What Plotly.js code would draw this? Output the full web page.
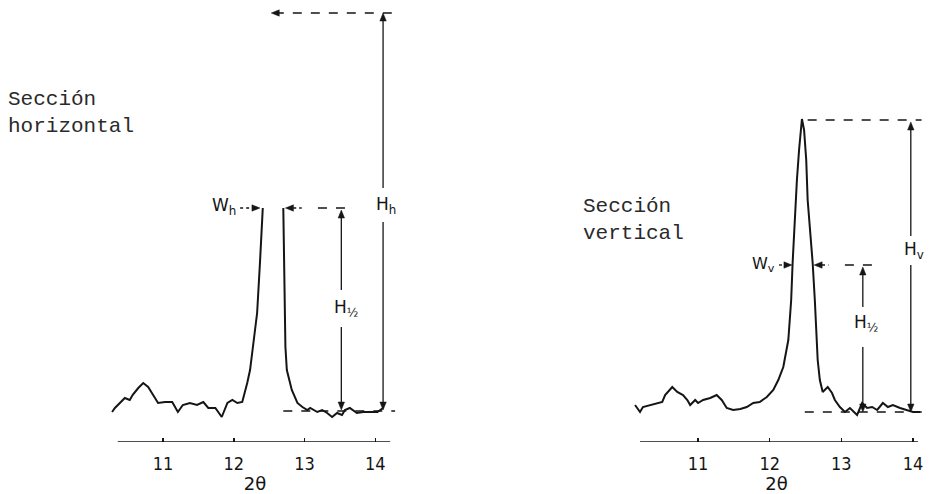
<!DOCTYPE html>
<html>
<head>
<meta charset="utf-8">
<script src="https://cdn.plot.ly/plotly-3.0.1.min.js"></script>
<style>html,body{margin:0;padding:0;background:#fff;}#chart{width:930px;height:494px;}</style>
</head>
<body>
<div id="chart"></div>
<script>
// Sección horizontal (2θ, intensity)
const leftTheta = [10.28,10.32,10.39,10.46,10.53,10.57,10.65,10.72,10.79,10.86,10.93,11.03,11.13,11.21,11.28,11.38,11.48,11.57,11.64,11.74,11.83,11.91,11.98,12.05,12.12,12.19,12.23,12.26,12.33,12.37,12.41,
  null,
  12.70,12.71,12.73,12.75,12.82,12.90,12.97,13.04,13.08,13.18,13.25,13.32,13.39,13.46,13.53,13.57,13.64,13.74,13.83,13.93,14.03,14.11];
const leftIntensity = [30,34,39,44,42,47,54,59,55,47,39,40,40,30,37,39,37,40,34,34,25,39,42,39,40,59,72,89,129,179,234,
  null,
  234,162,95,72,52,39,35,32,34,30,32,29,25,29,27,32,34,29,30,30,30,34];

// Sección vertical (2θ, intensity)
const rightTheta = [10.12,10.19,10.23,10.33,10.43,10.50,10.54,10.64,10.71,10.79,10.85,10.89,10.96,11.00,11.07,11.17,11.26,11.33,11.40,11.49,11.59,11.68,11.77,11.86,11.96,12.05,12.12,12.19,12.26,12.30,12.32,12.35,12.38,12.41,12.44,12.45,
  12.48,12.51,12.53,12.58,12.60,12.63,12.66,12.67,12.70,12.74,12.81,12.87,12.91,12.98,13.05,13.12,13.22,13.29,13.36,13.43,13.50,13.58,13.65,13.72,13.82,13.91,14.00,14.10];
const rightIntensity = [37,30,35,37,39,40,47,55,50,47,42,37,42,39,42,44,47,42,34,32,33,35,39,40,45,52,62,75,102,142,179,222,262,292,317,323,
  312,282,242,202,179,142,102,82,62,50,55,49,42,35,30,34,27,39,34,35,32,39,35,37,34,32,30,30];

const tickVals = [11,12,13,14];
const tickText = ['11','12','13','14'];
const axisTitle = '2θ';
const labelLeft = 'Sección<br>horizontal';
const labelRight = 'Sección<br>vertical';

const ink = '#151515';
const lineStyle = {color: ink, width: 2};

const traces = [
  {x: leftTheta, y: leftIntensity, xaxis: 'x', yaxis: 'y', type: 'scatter', mode: 'lines', line: lineStyle, connectgaps: false, hoverinfo: 'skip'},
  {x: rightTheta, y: rightIntensity, xaxis: 'x2', yaxis: 'y2', type: 'scatter', mode: 'lines', line: lineStyle, hoverinfo: 'skip'}
];

function xax(domain, range) {
  return {
    domain: domain, range: range, showline: false, showgrid: false, zeroline: false,
    tickmode: 'array', tickvals: tickVals, ticktext: tickText,
    ticks: 'inside', ticklen: 4, tickwidth: 1.5, tickcolor: ink,
    ticklabelstandoff: 9,
    tickfont: {family: 'DejaVu Sans Condensed, Liberation Sans, sans-serif', size: 18, color: ink},
    title: {text: axisTitle, standoff: 11, font: {family: 'DejaVu Sans, sans-serif', size: 18, color: ink}},
    fixedrange: true
  };
}
function yax(anchor) {
  return {range: [0, 442], visible: false, showgrid: false, zeroline: false, showticklabels: false, anchor: anchor, fixedrange: true};
}

// pixels per x unit for each panel (y: 1 unit = 1 px)
const pxPerX = {x: 70.7, x2: 71.7};

function seg(xref, yref, x0, y0, x1, y1, dash, w) {
  return {type: 'line', xref: xref, yref: yref, x0: x0, y0: y0, x1: x1, y1: y1,
          line: {color: ink, width: w || 1.3, dash: dash || 'solid'}};
}
// filled arrowhead with tip at (x,y), pointing dir: 'up','down','left','right'
function head(xref, yref, x, y, dir) {
  const L = 8, H = 3.2, k = pxPerX[xref];
  let pts;
  if (dir === 'up') pts = [[x, y], [x - H / k, y - L], [x + H / k, y - L]];
  else if (dir === 'down') pts = [[x, y], [x - H / k, y + L], [x + H / k, y + L]];
  else if (dir === 'left') pts = [[x, y], [x + L / k, y + H], [x + L / k, y - H]];
  else pts = [[x, y], [x - L / k, y + H], [x - L / k, y - H]];
  const p = 'M ' + pts.map(q => q[0].toFixed(4) + ',' + q[1].toFixed(2)).join(' L ') + ' Z';
  return {type: 'path', xref: xref, yref: yref, path: p, fillcolor: ink, line: {color: ink, width: 0.5}};
}
function label(xref, yref, x, y, text, xanchor, size) {
  return {xref: xref, yref: yref, x: x, y: y, text: text, showarrow: false, xanchor: xanchor || 'center', yanchor: 'middle',
          font: {family: 'DejaVu Sans, Liberation Sans, sans-serif', size: size || 17, color: ink}};
}
function mono(x, yTop, text) {
  return {xref: 'paper', yref: 'paper', x: x, y: yTop, text: text, showarrow: false, xanchor: 'left', yanchor: 'top', align: 'left',
          font: {family: 'Liberation Mono, DejaVu Sans Mono, monospace', size: 21, color: '#2a2a2a'}};
}

const shapes = [
  // axis lines
  seg('x', 'y', 10.36, 0, 14.21, 0, 'solid', 1.5),
  seg('x2', 'y2', 10.19, 0, 14.07, 0, 'solid', 1.5),
  // left dashed guides
  seg('x', 'y', 12.58, 429, 14.32, 429, 'dash'),
  seg('x', 'y', 13.19, 234, 13.62, 234, 'dash'),
  seg('x', 'y', 12.70, 31, 14.28, 31, 'dash'),
  head('x', 'y', 12.53, 429, 'left'),
  // left Hh
  seg('x', 'y', 14.11, 422, 14.11, 254),
  head('x', 'y', 14.11, 429, 'up'),
  seg('x', 'y', 14.11, 220, 14.11, 39),
  head('x', 'y', 14.11, 32, 'down'),
  // left Wh arrows
  seg('x', 'y', 12.09, 234, 12.26, 234, 'dot'),
  head('x', 'y', 12.37, 234, 'right'),
  seg('x', 'y', 12.84, 234, 12.96, 234, 'dot'),
  head('x', 'y', 12.73, 234, 'left'),
  // left H1/2
  seg('x', 'y', 13.52, 225, 13.52, 152),
  head('x', 'y', 13.52, 232, 'up'),
  seg('x', 'y', 13.52, 115, 13.52, 39),
  head('x', 'y', 13.52, 32, 'down'),
  // right dashed guides
  seg('x2', 'y2', 12.53, 322, 14.12, 322, 'dash'),
  seg('x2', 'y2', 13.05, 177, 13.43, 177, 'dash'),
  seg('x2', 'y2', 12.49, 30, 14.19, 30, 'dash'),
  // right Hv
  seg('x2', 'y2', 13.97, 313, 13.97, 206),
  head('x2', 'y2', 13.97, 320, 'up'),
  seg('x2', 'y2', 13.97, 177, 13.97, 37),
  head('x2', 'y2', 13.97, 30, 'down'),
  // right Wv arrows
  seg('x2', 'y2', 12.13, 177, 12.21, 177, 'dot'),
  head('x2', 'y2', 12.31, 177, 'right'),
  seg('x2', 'y2', 12.73, 177, 12.82, 177, 'dot'),
  head('x2', 'y2', 12.62, 177, 'left'),
  // right H1/2
  seg('x2', 'y2', 13.30, 168, 13.30, 135),
  head('x2', 'y2', 13.30, 175, 'up'),
  seg('x2', 'y2', 13.30, 95, 13.30, 37),
  head('x2', 'y2', 13.30, 30, 'down')
];

const annotations = [
  mono(6/930, (442-86)/442, labelLeft),
  mono(581/930, (442-193)/442, labelRight),
  label('x', 'y', 14.15, 237, 'H<sub>h</sub>'),
  label('x', 'y', 12.06, 236, 'W<sub>h</sub>', 'right'),
  label('x', 'y', 13.58, 134, 'H<sub>½</sub>'),
  label('x2', 'y2', 14.02, 192, 'H<sub>v</sub>'),
  label('x2', 'y2', 12.10, 178, 'W<sub>v</sub>', 'right', 16),
  label('x2', 'y2', 13.34, 119, 'H<sub>½</sub>')
];

const layout = {
  width: 930, height: 494,
  margin: {l: 0, r: 0, t: 0, b: 52, pad: 0},
  paper_bgcolor: '#fff', plot_bgcolor: 'rgba(0,0,0,0)',
  showlegend: false,
  xaxis: Object.assign(xax([105/930, 405/930], [10.18, 14.42]), {anchor: 'y'}),
  yaxis: yax('x'),
  xaxis2: Object.assign(xax([625/930, 928/930], [9.98, 14.21]), {anchor: 'y2'}),
  yaxis2: yax('x2'),
  shapes: shapes,
  annotations: annotations
};

Plotly.newPlot('chart', traces, layout, {displayModeBar: false, staticPlot: true});
</script>
</body>
</html>
